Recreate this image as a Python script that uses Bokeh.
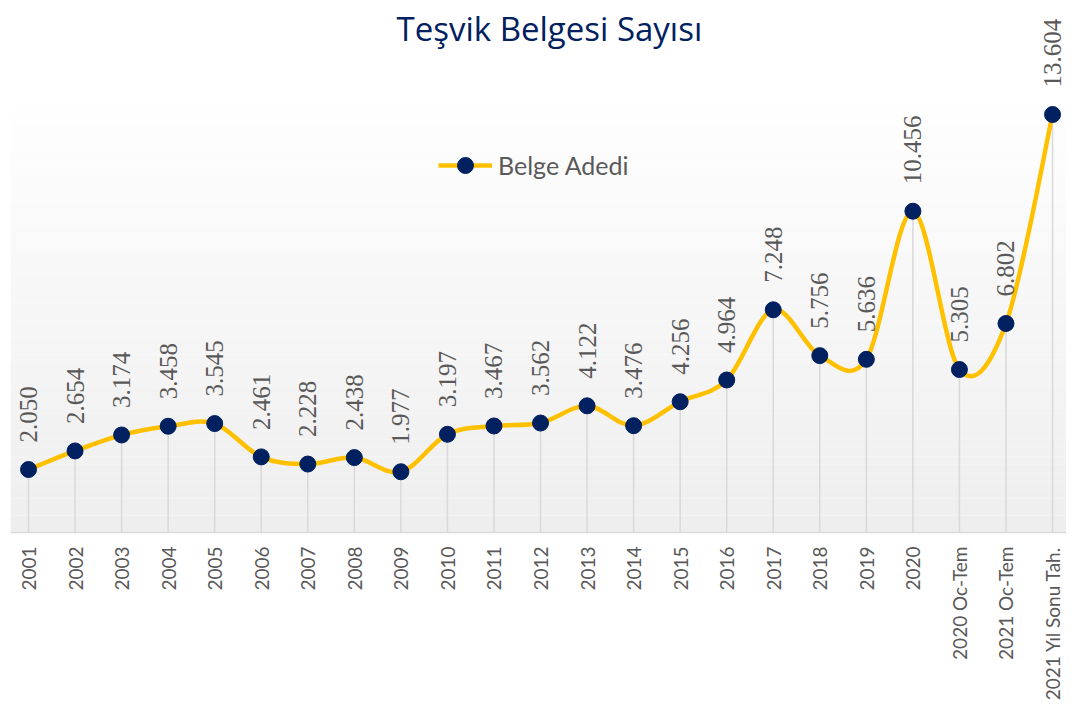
import math
import numpy as np
from bokeh.plotting import figure
from bokeh.models import (Range1d, FixedTicker, LabelSet, Label, ColumnDataSource,
                          Legend, LegendItem)
from bokeh.embed import file_html
from bokeh.resources import INLINE

# ---- data ----
categories = ["2001", "2002", "2003", "2004", "2005", "2006", "2007", "2008", "2009",
              "2010", "2011", "2012", "2013", "2014", "2015", "2016", "2017", "2018",
              "2019", "2020", "2020 Oc-Tem", "2021 Oc-Tem", "2021 Yıl Sonu Tah."]
belge_adedi = [2050, 2654, 3174, 3458, 3545, 2461, 2228, 2438, 1977, 3197, 3467, 3562,
               4122, 3476, 4256, 4964, 7248, 5756, 5636, 10456, 5305, 6802, 13604]
value_labels = [f"{v:,}".replace(",", ".") for v in belge_adedi]
title_text = "Teşvik Belgesi Sayısı"
series_name = "Belge Adedi"

FONT = "Lato"
LINE_COLOR = "#FFC000"
MARKER_COLOR = "#002060"
TEXT_GRAY = "#595959"

idx = list(range(len(categories)))
X0, X1 = -0.387, 22.30
Y_TOP = 17314

p = figure(width=1066, height=707, output_backend="svg", toolbar_location=None,
           x_range=Range1d(X0, X1), y_range=Range1d(0, Y_TOP),
           y_axis_location=None, min_border_top=0, min_border_left=10,
           min_border_right=0, min_border_bottom=175)
p.outline_line_color = None
p.xgrid.visible = False
p.ygrid.visible = False
p.background_fill_color = "white"
p.border_fill_color = "white"

# subtle vertical gradient of plot area
n_strips = 50
grad_top = 13799
edges = np.linspace(0, grad_top, n_strips + 1)
cols = []
for i in range(n_strips):
    t = i / (n_strips - 1)
    g = int(round(0xEE + (0xFE - 0xEE) * t))
    cols.append("#%02x%02x%02x" % (g, g, g))
p.quad(left=X0, right=X1, bottom=edges[:-1], top=edges[1:], fill_color=cols,
       line_color=None)

# drop lines
p.segment(x0=idx, y0=[0] * len(idx), x1=idx, y1=belge_adedi, line_color="#d9d9d9",
          line_width=1.5)

# smoothed line (Catmull-Rom style Bezier, as Excel's smoothed line)
ys = belge_adedi
n = len(ys)
x0, y0, x1, y1, cx0, cy0, cx1, cy1 = [], [], [], [], [], [], [], []
for i in range(n - 1):
    pm = i - 1 if i > 0 else i
    pp = i + 2 if i + 2 < n else i + 1
    x0.append(idx[i]); y0.append(ys[i]); x1.append(idx[i + 1]); y1.append(ys[i + 1])
    cx0.append(idx[i] + (idx[i + 1] - idx[pm]) / 6)
    cy0.append(ys[i] + (ys[i + 1] - ys[pm]) / 6)
    cx1.append(idx[i + 1] - (idx[pp] - idx[i]) / 6)
    cy1.append(ys[i + 1] - (ys[pp] - ys[i]) / 6)
line_r = p.bezier(x0=x0, y0=y0, x1=x1, y1=y1, cx0=cx0, cy0=cy0, cx1=cx1, cy1=cy1,
                  line_color=LINE_COLOR, line_width=4.5)

pts = p.scatter(idx, belge_adedi, size=16, fill_color=MARKER_COLOR,
                line_color=MARKER_COLOR, line_width=1)

src = ColumnDataSource(dict(x=idx, y=belge_adedi, t=value_labels))
labels = LabelSet(x="x", y="y", text="t", source=src, angle=math.pi / 2,
                  text_align="left", text_baseline="middle", y_offset=27,
                  text_font=FONT, text_font_size="25px", text_color=TEXT_GRAY)
p.add_layout(labels)

title = Label(x=11.19, y=16403, text=title_text, text_align="center",
              text_baseline="alphabetic", text_font="Open Sans", text_font_size="33px",
              text_color=MARKER_COLOR)
p.add_layout(title)

legend = Legend(items=[LegendItem(label=series_name, renderers=[line_r, pts])],
                location=(428, 347), glyph_width=54, glyph_height=40, label_height=40,
                label_standoff=6, padding=0, margin=0, spacing=0,
                border_line_color=None, background_fill_alpha=0,
                label_text_font=FONT, label_text_font_size="25px",
                label_text_color=TEXT_GRAY)
p.add_layout(legend, "center")

ax = p.xaxis[0]
ax.ticker = FixedTicker(ticks=idx)
ax.major_label_overrides = {i: c for i, c in zip(idx, categories)}
ax.major_label_orientation = math.pi / 2
ax.major_tick_line_color = None
ax.minor_tick_line_color = None
ax.major_tick_out = 0
ax.major_tick_in = 0
ax.major_label_standoff = 14
ax.axis_line_color = "#d9d9d9"
ax.axis_line_width = 1.5
ax.major_label_text_font = FONT
ax.major_label_text_font_size = "19px"
ax.major_label_text_color = TEXT_GRAY

open("out.html", "w").write(file_html(p, INLINE))
